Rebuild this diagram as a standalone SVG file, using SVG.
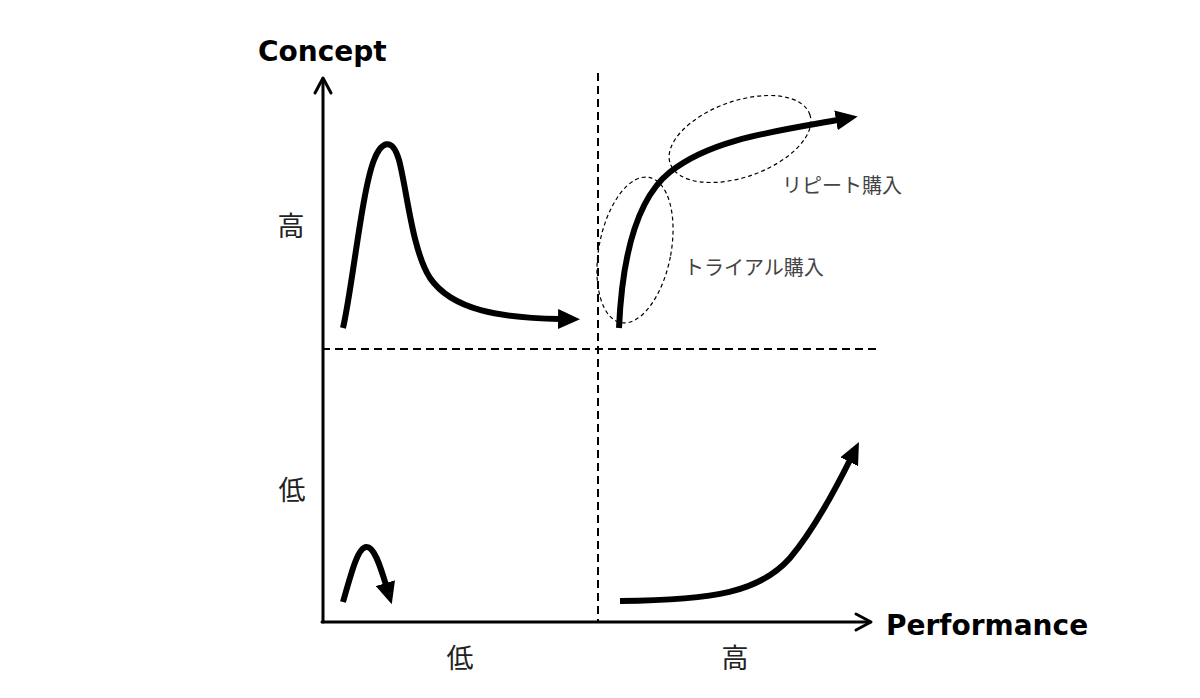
<svg xmlns="http://www.w3.org/2000/svg" width="1200" height="698" viewBox="0 0 1200 698">
<style>
.axis{fill:none;stroke:#000;stroke-width:3;stroke-linecap:round;stroke-linejoin:round}
.grid{fill:none;stroke:#000;stroke-width:2;stroke-dasharray:8 5}
.curve{fill:none;stroke:#000;stroke-width:6;stroke-linejoin:round}
.ell{fill:none;stroke:#000;stroke-width:1.2;stroke-dasharray:4 3}
.title{font-family:"DejaVu Sans","Liberation Sans",sans-serif;font-weight:bold;font-size:28px;fill:#000}
.lv{font-family:"Noto Sans CJK JP",sans-serif;font-size:27px;fill:#222;text-anchor:middle}
.note{font-family:"Noto Sans CJK JP",sans-serif;font-size:20px;fill:#444}
</style>
<defs>
<marker id="head" viewBox="0 0 22 20" markerWidth="22" markerHeight="20" refX="2" refY="10" orient="auto" markerUnits="userSpaceOnUse">
<path d="M0,0 L22,10 L0,20 Z" fill="#000"/>
</marker>
</defs>
<rect width="1200" height="698" fill="#fff"/>
<g id="grid">
<line class="grid" x1="598" y1="73" x2="598" y2="622"/>
<line class="grid" x1="322" y1="349" x2="876" y2="349"/>
</g>
<g id="axes">
<line class="axis" x1="323" y1="622" x2="323" y2="79"/>
<polyline class="axis" points="315,93 323,78 331,93"/>
<line class="axis" x1="322" y1="622" x2="870" y2="622"/>
<polyline class="axis" points="856,614 871,622 856,630"/>
<text class="title" x="258" y="61">Concept</text>
<text class="title" x="886" y="635">Performance</text>
<text class="lv" x="291" y="236">高</text>
<text class="lv" x="292" y="500">低</text>
<text class="lv" x="460" y="668">低</text>
<text class="lv" x="735" y="668">高</text>
</g>
<g id="connectors">
<path id="peak" class="curve" marker-end="url(#head)" d="M343,328 C352,290 362,190 374,160 C381,142 392,136 399,160 C407,190 412,250 430,278 C452,310 500,318 560,319"/>
<path id="growth" class="curve" marker-end="url(#head)" d="M619,328 C622,260 635,200 670,172 C710,140 770,132 838,120"/>
<path id="small" class="curve" marker-end="url(#head)" d="M343,602 C352,570 358,548 366,547 C374,546 380,565 386,585"/>
<path id="late" class="curve" marker-end="url(#head)" d="M620,601 C715,600 760,592 790,558 C812,532 835,490 850,460"/>
</g>
<g id="trial">
<ellipse class="ell" cx="635" cy="250" rx="36" ry="74" transform="rotate(11 635 250)"/>
<text class="note" x="684" y="275">トライアル購入</text>
</g>
<g id="repeat">
<ellipse class="ell" cx="740" cy="139" rx="74" ry="38" transform="rotate(-19.5 740 139)"/>
<text class="note" x="782" y="193">リピート購入</text>
</g>
</svg>
